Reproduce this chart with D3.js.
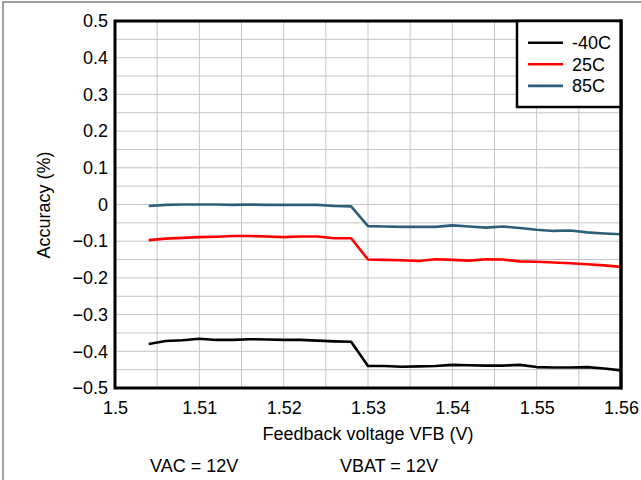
<!DOCTYPE html>
<html><head><meta charset="utf-8">
<script src="https://cdn.jsdelivr.net/npm/d3@7"></script>
<style>body{margin:0;background:#fff}svg{display:block}text{font-family:"Liberation Sans",Arial,sans-serif;fill:#000}</style>
</head><body><svg id="c" width="641" height="480"></svg>
<script>
const vfb = [1.504,1.506,1.508,1.510,1.512,1.514,1.516,1.518,1.520,1.522,1.524,1.526,1.528,
  1.530,1.532,1.534,1.536,1.538,1.540,1.542,1.544,1.546,1.548,1.550,1.552,1.554,1.556,1.558,1.560];
const accM40 = [-0.380,-0.372,-0.370,-0.366,-0.369,-0.369,-0.367,-0.368,-0.369,-0.369,-0.371,-0.373,-0.374,
  -0.440,-0.440,-0.442,-0.441,-0.440,-0.437,-0.438,-0.439,-0.439,-0.437,-0.443,-0.444,-0.444,-0.443,-0.447,-0.452];
const acc25 = [-0.097,-0.093,-0.091,-0.089,-0.088,-0.086,-0.086,-0.087,-0.089,-0.087,-0.087,-0.092,-0.092,
  -0.150,-0.151,-0.152,-0.154,-0.149,-0.151,-0.153,-0.149,-0.150,-0.155,-0.156,-0.158,-0.160,-0.163,-0.166,-0.170];
const acc85 = [-0.004,-0.001,0.000,0.000,0.000,-0.001,0.000,-0.001,-0.001,-0.001,-0.001,-0.004,-0.005,
  -0.059,-0.060,-0.061,-0.061,-0.061,-0.057,-0.060,-0.063,-0.060,-0.064,-0.069,-0.072,-0.071,-0.076,-0.079,-0.081];
const seriesNames = ["-40C","25C","85C"];
const seriesColors = ["#000000","#ff0000","#2e5f7a"];
const xTicks = [1.5,1.51,1.52,1.53,1.54,1.55,1.56];
const yTicks = [0.5,0.4,0.3,0.2,0.1,0,-0.1,-0.2,-0.3,-0.4,-0.5];
const xTitle = "Feedback voltage VFB (V)";
const yTitle = "Accuracy (%)";
const notes = ["VAC = 12V","VBAT = 12V"];

const svg = d3.select("#c");
const L=115, R=621, T=21, B=388;
const x = d3.scaleLinear().domain([1.5,1.56]).range([L,R]);
const y = d3.scaleLinear().domain([-0.5,0.5]).range([B,T]);

// outer frame
svg.append("rect").attr("x",3).attr("y",2).attr("width",700).attr("height",600)
  .attr("fill","none").attr("stroke","#808080").attr("stroke-width",1.5);

// grid
const g = svg.append("g");
g.selectAll(".vg").data(d3.range(1,12).map(i=>1.5+i*0.005)).join("line")
  .attr("x1",d=>x(d)).attr("x2",d=>x(d)).attr("y1",T).attr("y2",B)
  .attr("stroke","#c4c4c4").attr("stroke-width",1);
g.selectAll(".hg").data(d3.range(1,20).map(i=>-0.5+i*0.05)).join("line")
  .attr("y1",d=>y(d)).attr("y2",d=>y(d)).attr("x1",L).attr("x2",R)
  .attr("stroke","#c4c4c4").attr("stroke-width",1);

// axes (labels via d3 axes)
const xAxis = svg.append("g").attr("transform",`translate(0,${B})`)
  .call(d3.axisBottom(x).tickValues(xTicks).tickFormat(d3.format("")).tickSize(0).tickPadding(13));
const yAxis = svg.append("g").attr("transform",`translate(${L},0)`)
  .call(d3.axisLeft(y).tickValues(yTicks).tickFormat(d3.format("")).tickSize(0).tickPadding(7));
[xAxis,yAxis].forEach(a=>{a.select(".domain").remove();a.selectAll("text").attr("font-size",18).attr("font-family",'"Liberation Sans",Arial,sans-serif').attr("fill","#000");});

// lines
const series = [accM40, acc25, acc85];
const line = d3.line().x((d,i)=>x(vfb[i])).y(d=>y(d));
series.forEach((s,k)=>{
  svg.append("path").datum(s).attr("d",line).attr("fill","none")
    .attr("stroke",seriesColors[k]).attr("stroke-width",2.6).attr("stroke-linejoin","round");
});

// plot border
svg.append("rect").attr("x",L).attr("y",T).attr("width",R-L).attr("height",B-T)
  .attr("fill","none").attr("stroke","#000").attr("stroke-width",3);

// legend
const lg = svg.append("g");
lg.append("rect").attr("x",517).attr("y",T).attr("width",R-517).attr("height",86)
  .attr("fill","#fff").attr("stroke","#000").attr("stroke-width",2.5);
seriesNames.forEach((n,k)=>{
  const yy = 42.7 + k*21.6;
  lg.append("line").attr("x1",528).attr("x2",563).attr("y1",yy).attr("y2",yy)
    .attr("stroke",seriesColors[k]).attr("stroke-width",2.6);
  lg.append("text").attr("x",572).attr("y",yy+6.5).attr("font-size",18).text(n);
});
// redraw right border of plot on top of legend
svg.append("line").attr("x1",R).attr("x2",R).attr("y1",T-1.5).attr("y2",B+1.5).attr("stroke","#000").attr("stroke-width",3);

// titles
svg.append("text").attr("x",(L+R)/2).attr("y",440).attr("text-anchor","middle").attr("font-size",18).text(xTitle);
svg.append("text").attr("transform","translate(50,205) rotate(-90)").attr("text-anchor","middle").attr("font-size",18).text(yTitle);
svg.append("text").attr("x",150).attr("y",472).attr("font-size",18).text(notes[0]);
svg.append("text").attr("x",340).attr("y",472).attr("font-size",18).text(notes[1]);
</script></body></html>
